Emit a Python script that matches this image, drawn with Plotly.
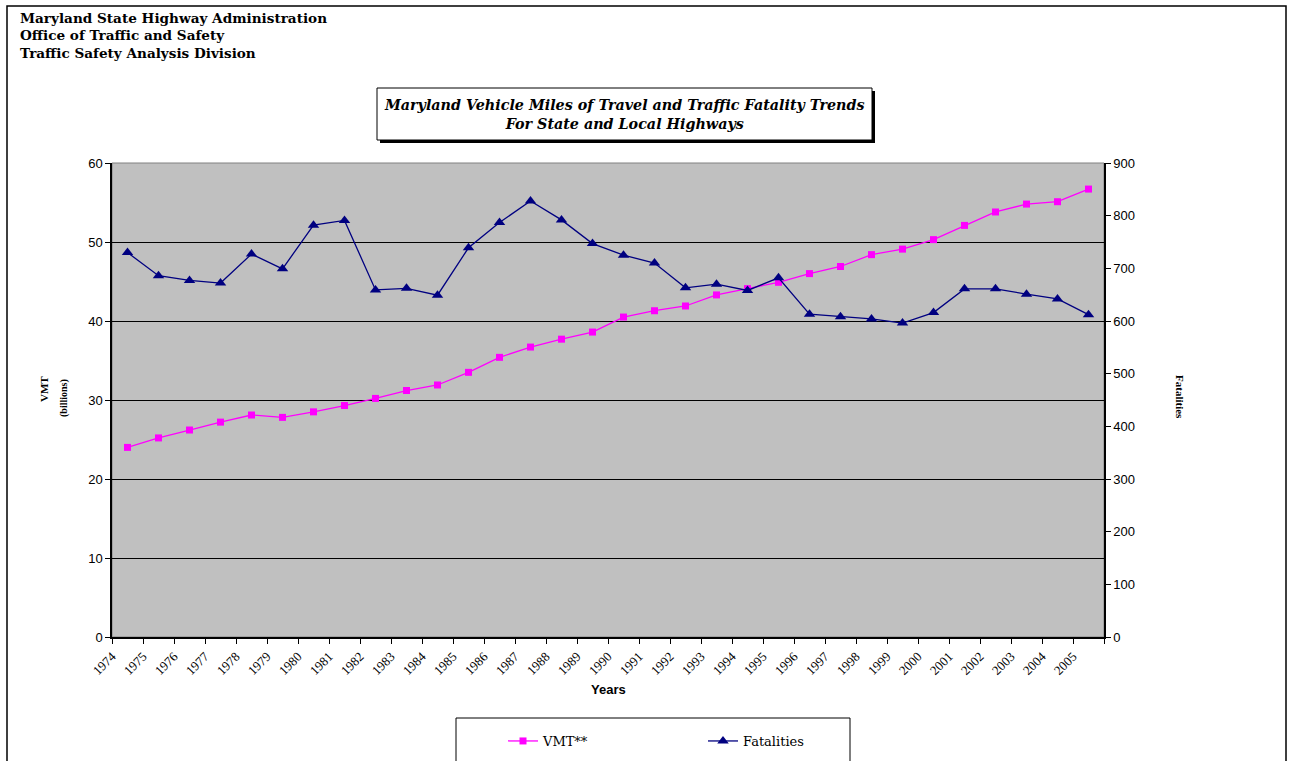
import plotly.graph_objects as go

years = list(range(1974, 2006))
vmt = [24.0, 25.2, 26.2, 27.2, 28.1, 27.8, 28.5, 29.3, 30.2, 31.2,
       31.9, 33.5, 35.4, 36.7, 37.7, 38.6, 40.5, 41.3, 41.9, 43.3,
       44.1, 44.9, 46.0, 46.9, 48.4, 49.1, 50.3, 52.1, 53.8, 54.8,
       55.1, 56.7]
fatalities = [730, 686, 677, 672, 727, 699, 782, 791, 659, 662,
              649, 739, 787, 828, 792, 747, 725, 710, 663, 670,
              658, 682, 613, 608, 604, 596, 616, 661, 661, 651,
              642, 612]
year_labels = [str(y) for y in years]

W, H = 1289, 761
L, R, T, B = 112, 1104, 163, 637


def px(x):
    return (x - L) / (R - L)


def py(y):
    return (B - y) / (B - T)


serif = "Liberation Serif"
wide_serif = "DejaVu Serif"
sans = "Liberation Sans"

fig = go.Figure()
fig.add_scatter(
    x=years, y=vmt, name="VMT**", mode="lines+markers",
    line=dict(color="#FF00FF", width=1.3),
    marker=dict(symbol="square", size=7, color="#FF00FF"),
)
fig.add_scatter(
    x=years, y=fatalities, name="Fatalities", mode="lines+markers", yaxis="y2",
    line=dict(color="#000080", width=1.3),
    marker=dict(symbol="triangle-up", size=10, color="#000080"),
)

# tick marks sit on category boundaries, labels anchored at the left boundary
tickvals = [y - 0.5 for y in years] + [years[-1] + 0.5]
ticktext = year_labels + [""]

fig.update_layout(
    width=W, height=H,
    margin=dict(l=L, r=W - R, t=T, b=H - B, autoexpand=False),
    paper_bgcolor="white",
    plot_bgcolor="#C0C0C0",
    showlegend=True,
    legend=dict(
        orientation="h", x=px(503), y=py(741), xanchor="left", yanchor="middle",
        font=dict(family=wide_serif, size=13, color="black"),
        bgcolor="rgba(0,0,0,0)", entrywidth=155,
    ),
    xaxis=dict(
        range=[years[0] - 0.5, years[-1] + 0.5],
        tickvals=tickvals, ticktext=ticktext, tickangle=-45,
        ticks="outside", ticklen=5, tickcolor="black",
        showline=True, linecolor="black", linewidth=1.5,
        showgrid=False, zeroline=False,
        tickfont=dict(family=serif, size=13, color="black"),
    ),
    yaxis=dict(
        range=[0, 60], dtick=10, ticks="outside", ticklen=5, tickcolor="black",
        showline=True, linecolor="black", linewidth=1.5,
        showgrid=True, gridcolor="black", gridwidth=1, zeroline=False,
        tickfont=dict(family=sans, size=13, color="black"),
    ),
    yaxis2=dict(
        range=[0, 900], dtick=100, overlaying="y", side="right",
        ticks="outside", ticklen=5, tickcolor="black",
        showline=True, linecolor="black", linewidth=1.5,
        showgrid=False, zeroline=False,
        tickfont=dict(family=sans, size=13, color="black"),
    ),
)

shapes = [
    # page border
    dict(type="rect", xref="paper", yref="paper", x0=px(7), x1=px(1286), y0=py(775), y1=py(6),
         line=dict(color="black", width=1.5), layer="below"),
    # plot area border
    dict(type="rect", xref="paper", yref="paper", x0=0, x1=1, y0=0, y1=1,
         line=dict(color="#808080", width=1), layer="below"),
    # title box shadow + box
    dict(type="rect", xref="paper", yref="paper", x0=px(380), x1=px(875), y0=py(143), y1=py(91),
         line=dict(width=0), fillcolor="black"),
    dict(type="rect", xref="paper", yref="paper", x0=px(377), x1=px(872), y0=py(140), y1=py(88),
         line=dict(color="black", width=1), fillcolor="white"),
    # legend box
    dict(type="rect", xref="paper", yref="paper", x0=px(456), x1=px(850), y0=py(775), y1=py(718),
         line=dict(color="black", width=1)),
]
fig.update_layout(shapes=shapes)

header = ["Maryland State Highway Administration",
          "Office of Traffic and Safety",
          "Traffic Safety Analysis Division"]
for i, line in enumerate(header):
    fig.add_annotation(
        xref="paper", yref="paper", x=px(18), y=py(18 + i * 17.5),
        xanchor="left", yanchor="middle", showarrow=False,
        text=f"<b>{line}</b>", font=dict(family=wide_serif, size=13.6, color="black"),
    )

fig.add_annotation(
    xref="paper", yref="paper", x=px(624), y=py(114),
    xanchor="center", yanchor="middle", showarrow=False,
    text="<b><i>Maryland Vehicle Miles of Travel and Traffic Fatality Trends<br>"
         "For State and Local Highways</i></b>",
    font=dict(family=wide_serif, size=14.3, color="black"),
)
fig.add_annotation(
    xref="paper", yref="paper", x=px(608), y=py(689),
    xanchor="center", yanchor="middle", showarrow=False,
    text="<b>Years</b>", font=dict(family=sans, size=13, color="black"),
)
fig.add_annotation(
    xref="paper", yref="paper", x=px(44), y=py(389),
    xanchor="center", yanchor="middle", showarrow=False, textangle=-90,
    text="<b>VMT</b>", font=dict(family=serif, size=11, color="black"),
)
fig.add_annotation(
    xref="paper", yref="paper", x=px(64), y=py(398),
    xanchor="center", yanchor="middle", showarrow=False, textangle=-90,
    text="<b>(billions)</b>", font=dict(family=serif, size=10, color="black"),
)
fig.add_annotation(
    xref="paper", yref="paper", x=px(1180), y=py(397),
    xanchor="center", yanchor="middle", showarrow=False, textangle=90,
    text="<b>Fatalities</b>", font=dict(family=serif, size=11, color="black"),
)

fig.write_html("out.html", config={"displayModeBar": False},
               post_script="document.body.style.margin = '0';")
